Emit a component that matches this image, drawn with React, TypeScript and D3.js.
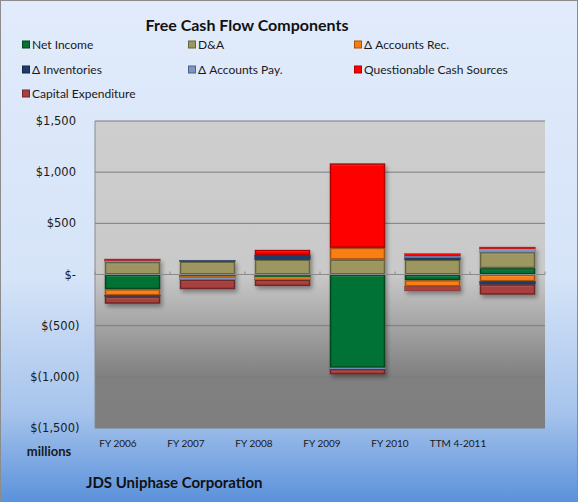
import React, { useEffect, useRef } from 'react';
import * as d3 from 'd3';

const categories = ['FY 2006', 'FY 2007', 'FY 2008', 'FY 2009', 'FY 2010', 'TTM 4-2011'];
const netIncome = [-144, -18, -25, -912, -56, 62];
const depreciation = [122, 125, 144, 145, 143, 157];
const accountsRec = [-62, -14, -20, 115, -62, -68];
const inventories = [-10, 13, 45, 0, 22, -29];
const accountsPay = [16, -20, -8, -12, 16, 33];
const questionable = [13, 0, 52, 826, 22, 16];
const capex = [-70, -92, -60, -52, -42, -100];
const yTicks = [1500, 1000, 500, 0, -500, -1000, -1500];

const seriesNames = [
  'Net Income',
  'D&A',
  'Δ Accounts Rec.',
  'Δ Inventories',
  'Δ Accounts Pay.',
  'Questionable Cash Sources',
  'Capital Expenditure',
];
const seriesValues = [netIncome, depreciation, accountsRec, inventories, accountsPay, questionable, capex];
const baseColors = ['#067234', '#9c9660', '#fa7d12', '#1f3c68', '#7c96c4', '#ff0000', '#a8403e'];
const edgeColors = ['#04471f', '#66633f', '#a3520b', '#14284a', '#4d6287', '#b00000', '#6e2827'];

const W = 578;
const H = 502;

export default function App() {
  const svgRef = useRef<SVGSVGElement>(null);

  useEffect(() => {
    const svg = d3.select(svgRef.current);
    svg.selectAll('*').remove();

    const left = 95,
      right = 545,
      top = 121,
      bottom = 428;

    const defs = svg.append('defs');
    const bg = defs
      .append('linearGradient')
      .attr('id', 'bgGrad')
      .attr('x1', 0)
      .attr('y1', 0)
      .attr('x2', 0)
      .attr('y2', 1);
    bg.append('stop').attr('offset', 0).attr('stop-color', '#e1ebfb');
    bg.append('stop').attr('offset', 0.55).attr('stop-color', '#d6e4f8');
    bg.append('stop').attr('offset', 0.82).attr('stop-color', '#a7c4ec');
    bg.append('stop').attr('offset', 1).attr('stop-color', '#5b92db');

    const pg = defs
      .append('linearGradient')
      .attr('id', 'plotGrad')
      .attr('x1', 0)
      .attr('y1', 0)
      .attr('x2', 0)
      .attr('y2', 1);
    pg.append('stop').attr('offset', 0).attr('stop-color', '#cecece');
    pg.append('stop').attr('offset', 0.5).attr('stop-color', '#c9c9c9');
    pg.append('stop').attr('offset', 0.83).attr('stop-color', '#808080');
    pg.append('stop').attr('offset', 1).attr('stop-color', '#7f7f7f');

    const shadow = defs.append('filter').attr('id', 'shadow').attr('x', '-20%').attr('y', '-20%').attr('width', '140%').attr('height', '140%');
    shadow
      .append('feDropShadow')
      .attr('dx', 2)
      .attr('dy', 3)
      .attr('stdDeviation', 2)
      .attr('flood-color', '#000')
      .attr('flood-opacity', 0.35);

    // background
    svg
      .append('rect')
      .attr('x', 0.5)
      .attr('y', 0.5)
      .attr('width', W - 1)
      .attr('height', H - 1)
      .attr('fill', 'url(#bgGrad)')
      .attr('stroke', '#8c8c8c');

    svg
      .append('rect')
      .attr('x', left)
      .attr('y', top)
      .attr('width', right - left)
      .attr('height', bottom - top)
      .attr('fill', 'url(#plotGrad)');

    const x = d3.scaleBand().domain(categories).range([left, right]).paddingInner(0.26).paddingOuter(0.13);
    const y = d3.scaleLinear().domain([-1500, 1500]).range([bottom, top]);

    // gridlines
    svg
      .append('g')
      .selectAll('line')
      .data(yTicks.filter((t) => t !== 0))
      .enter()
      .append('line')
      .attr('x1', left)
      .attr('x2', right)
      .attr('y1', (d) => y(d))
      .attr('y2', (d) => y(d))
      .attr('stroke', '#7d7d7d')
      .attr('stroke-width', 1);

    // y labels, accounting style
    const fmt = d3.format(',');
    svg
      .append('g')
      .selectAll('text')
      .data(yTicks)
      .enter()
      .append('text')
      .attr('x', (d) => (d < 0 ? 79.5 : 76))
      .attr('y', (d) => y(d))
      .attr('dy', '0.36em')
      .attr('text-anchor', 'end')
      .style('font-family', 'DejaVu Sans, sans-serif')
      .style('font-size', '11.5px')
      .attr('fill', '#1a1a1a')
      .text((d) => (d === 0 ? '$-' : d < 0 ? '$(' + fmt(-d) + ')' : '$' + fmt(d)));

    // y axis line
    svg
      .append('line')
      .attr('x1', left)
      .attr('x2', left)
      .attr('y1', top)
      .attr('y2', bottom)
      .attr('stroke', '#8a8a8a');

    // stacked bars
    const rows = categories.map((c, i) => {
      const r: any = { cat: c };
      seriesNames.forEach((s, k) => (r[s] = seriesValues[k][i]));
      return r;
    });
    const stacked = d3.stack<any>().keys(seriesNames).offset(d3.stackOffsetDiverging)(rows);

    const bars = svg.append('g').attr('filter', 'url(#shadow)');
    stacked.forEach((layer, k) => {
      layer.forEach((d: any) => {
        const v0 = Math.min(d[0], d[1]);
        const v1 = Math.max(d[0], d[1]);
        if (v1 - v0 <= 0) return;
        const bx = x(d.data.cat)!;
        const bw = x.bandwidth();
        const by = y(v1);
        const bh = y(v0) - y(v1);
        const g = bars.append('g');
        if (bh >= 5) {
          g.append('rect').attr('x', bx).attr('y', by).attr('width', bw).attr('height', bh).attr('fill', edgeColors[k]);
          g.append('rect')
            .attr('x', bx + 1.5)
            .attr('y', by + 1.5)
            .attr('width', bw - 3)
            .attr('height', bh - 3)
            .attr('fill', baseColors[k]);
          g.append('line')
            .attr('x1', bx + 1.5)
            .attr('x2', bx + bw - 1.5)
            .attr('y1', by + 1.75)
            .attr('y2', by + 1.75)
            .attr('stroke', '#fff')
            .attr('stroke-opacity', 0.25)
            .attr('stroke-width', 0.5);
        } else {
          g.append('rect')
            .attr('x', bx)
            .attr('y', by)
            .attr('width', bw)
            .attr('height', bh)
            .attr('fill', baseColors[k])
            .attr('stroke', edgeColors[k])
            .attr('stroke-width', 0.4);
        }
      });
    });

    // x axis line and ticks
    const y0 = y(0);
    svg
      .append('line')
      .attr('x1', left)
      .attr('x2', right)
      .attr('y1', y0)
      .attr('y2', y0)
      .attr('stroke', '#8a8a8a')
      .attr('stroke-width', 1);
    const step = x.step();
    svg
      .append('g')
      .selectAll('line')
      .data(d3.range(categories.length + 1))
      .enter()
      .append('line')
      .attr('x1', (i) => left + i * step)
      .attr('x2', (i) => left + i * step)
      .attr('y1', y0 - 3)
      .attr('y2', y0)
      .attr('stroke', '#8a8a8a');

    // category labels (sit offset from the bars in the original)
    const xl = d3.scalePoint().domain(categories).range([118, 458]);
    svg
      .append('g')
      .selectAll('text')
      .data(categories)
      .enter()
      .append('text')
      .attr('x', (d) => xl(d)!)
      .attr('y', 446.5)
      .attr('text-anchor', 'middle')
      .style('font-family', 'Lato, sans-serif')
      .style('font-size', '10px')
      .attr('fill', '#1a1a1a')
      .text((d) => d);

    svg
      .append('text')
      .attr('x', 49)
      .attr('y', 456)
      .attr('text-anchor', 'middle')
      .style('font-family', 'Lato, sans-serif')
      .style('font-weight', 'bold')
      .style('font-size', '13px')
      .attr('fill', '#1a1a1a')
      .text('millions');

    // title
    svg
      .append('text')
      .attr('x', 247)
      .attr('y', 30.5)
      .attr('text-anchor', 'middle')
      .style('font-family', 'Lato, sans-serif')
      .style('font-weight', 'bold')
      .style('font-size', '16px')
      .attr('fill', '#111')
      .text('Free Cash Flow Components');

    svg
      .append('text')
      .attr('x', 86)
      .attr('y', 487.5)
      .style('font-family', 'Lato, sans-serif')
      .style('font-weight', 'bold')
      .style('font-size', '15px')
      .attr('fill', '#111')
      .text('JDS Uniphase Corporation');

    // legend
    const colX = [22, 188, 354];
    const rowY = [44.5, 69.5, 93.5];
    const leg = svg
      .append('g')
      .selectAll('g')
      .data(seriesNames)
      .enter()
      .append('g')
      .attr('transform', (d, i) => 'translate(' + colX[i % 3] + ',' + rowY[Math.floor(i / 3)] + ')');
    leg
      .append('rect')
      .attr('x', 0.5)
      .attr('y', -3.5)
      .attr('width', 7)
      .attr('height', 7)
      .attr('fill', (d, i) => baseColors[i])
      .attr('stroke', (d, i) => edgeColors[i]);
    leg
      .append('text')
      .attr('x', 10)
      .attr('y', 0)
      .attr('dy', '0.35em')
      .style('font-family', 'Lato, sans-serif')
      .style('font-size', '12px')
      .attr('fill', '#1a1a1a')
      .text((d) => d);
  }, []);

  return (
    <svg
      ref={svgRef}
      width={W}
      height={H}
      style={{ position: 'fixed', left: 0, top: 0, display: 'block' }}
    />
  );
}
